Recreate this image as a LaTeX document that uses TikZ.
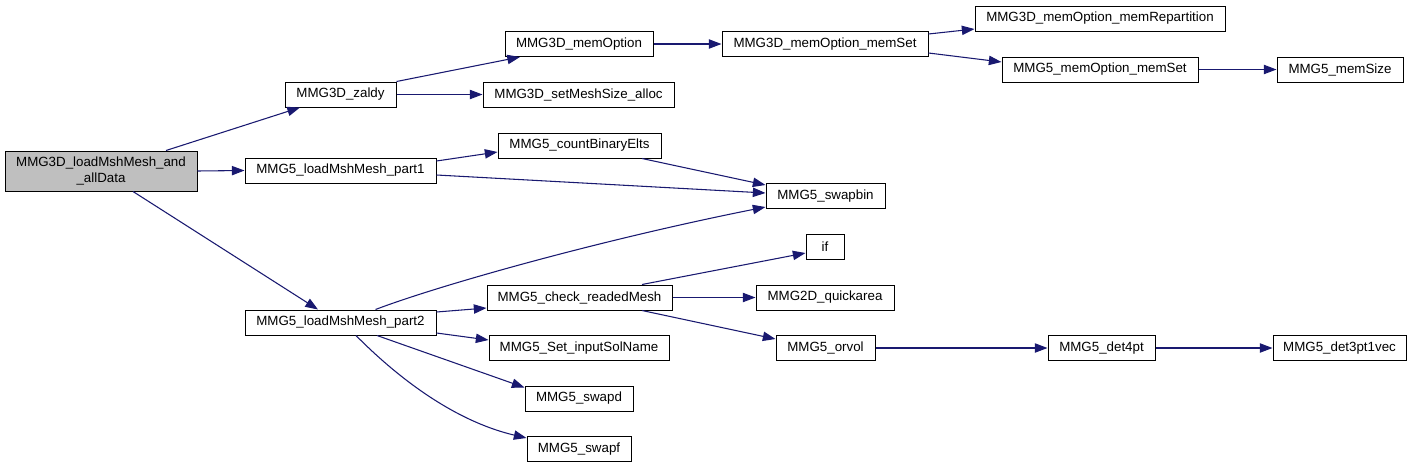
\documentclass[tikz,border=0pt]{standalone}
\usepackage{fontspec}
\setmainfont{Liberation Sans}
\usetikzlibrary{arrows.meta,calc}
\definecolor{edgeblue}{HTML}{191970}
\definecolor{rootgray}{HTML}{BFBFBF}
\begin{document}
\begin{tikzpicture}[x=0.75pt,y=-0.75pt,
  box/.style={draw=black,line width=0.75pt,rectangle,inner sep=0pt,minimum height=18.75pt,font=\fontsize{10pt}{11.5pt}\selectfont,fill=white},
  rootbox/.style={box,fill=rootgray,minimum height=30pt,align=center},
  edge/.style={draw=edgeblue,line width=0.8pt,-{Triangle[length=9.5pt,width=7pt]}}]
\useasboundingbox (0,0) rectangle (1413,468);
% nodes
\node[rootbox,minimum width=144pt] (root) at (101,171) {MMG3D\_loadMshMesh\_and\\\_allData};
\node[box,minimum width=83.25pt] (zaldy) at (340.5,94.5) {MMG3D\_zaldy};
\node[box,minimum width=143.25pt] (part1) at (340.5,170.5) {MMG5\_loadMshMesh\_part1};
\node[box,minimum width=143.25pt] (part2) at (340.5,322.5) {MMG5\_loadMshMesh\_part2};
\node[box,minimum width=111pt] (memopt) at (579,44) {MMG3D\_memOption};
\node[box,minimum width=143.25pt] (alloc) at (578.5,94.5) {MMG3D\_setMeshSize\_alloc};
\node[box,minimum width=154.5pt] (memset) at (825,44) {MMG3D\_memOption\_memSet};
\node[box,minimum width=187.5pt] (memrep) at (1100,18.5) {MMG3D\_memOption\_memRepartition};
\node[box,minimum width=147pt] (memsetfive) at (1100,69.5) {MMG5\_memOption\_memSet};
\node[box,minimum width=94.5pt] (memsize) at (1340,69.5) {MMG5\_memSize};
\node[box,minimum width=122.25pt] (countbin) at (579.5,145.5) {MMG5\_countBinaryElts};
\node[box,minimum width=89.25pt] (swapbin) at (825.5,196) {MMG5\_swapbin};
\node[box,minimum width=28.5pt] (iff) at (825,246.5) {if};
\node[box,minimum width=138.75pt] (check) at (579.5,297.5) {MMG5\_check\_readedMesh};
\node[box,minimum width=103.5pt] (quick) at (825,297.5) {MMG2D\_quickarea};
\node[box,minimum width=135pt] (solname) at (579,348) {MMG5\_Set\_inputSolName};
\node[box,minimum width=74.25pt] (orvol) at (825.5,348) {MMG5\_orvol};
\node[box,minimum width=81pt] (swapd) at (579,398.5) {MMG5\_swapd};
\node[box,minimum width=78pt] (swapf) at (579,449) {MMG5\_swapf};
\node[box,minimum width=80.25pt] (detfour) at (1101.5,348) {MMG5\_det4pt};
\node[box,minimum width=99.75pt] (detthree) at (1339.5,348) {MMG5\_det3pt1vec};
% edges
\draw[edge] ($(root.north)+(65,0)$) -- ($(zaldy.south)+(-40.5,0)$);
\draw[edge] (root.east) -- (part1.west);
\draw[edge] ($(root.south)+(32,0)$) -- ($(part2.north)+(-22.5,0)$);
\draw[edge] (zaldy.north east) -- ($(memopt.south)+(-59,0)$);
\draw[edge] (zaldy.east) -- (alloc.west);
\draw[edge] (memopt.east) -- (memset.west);
\draw[edge] ($(memset.east)+(0,-10)$) -- ($(memrep.west)+(0,10.5)$);
\draw[edge] ($(memset.east)+(0,9)$) -- ($(memsetfive.west)+(0,-7.5)$);
\draw[edge] (memsetfive.east) -- (memsize.west);
\draw[edge] ($(part1.east)+(0,-9.5)$) -- ($(countbin.west)+(0,6.5)$);
\draw[edge] ($(part1.east)+(0,4.5)$) -- ($(swapbin.west)+(0,-3)$);
\draw[edge] ($(countbin.south)+(62.5,0)$) -- ($(swapbin.north west)+(0,2)$);
\draw[edge] ($(part2.north)+(35,0)$) .. controls (440,285) and (600,240) .. ($(swapbin.west)+(0,11)$);
\draw[edge] ($(part2.east)+(0,-10.5)$) -- ($(check.west)+(0,10.5)$);
\draw[edge] ($(part2.east)+(0,10.5)$) -- ($(solname.west)+(0,-8)$);
\draw[edge] ($(part2.south)+(36.5,0)$) -- ($(swapd.north west)+(0,2)$);
\draw[edge] ($(part2.south)+(15.5,0)$) .. controls (392,372) and (450,420) .. ($(swapf.north west)+(0,2)$);
\draw[edge] ($(check.north)+(62.5,0)$) -- ($(iff.west)+(0,6.5)$);
\draw[edge] (check.east) -- (quick.west);
\draw[edge] ($(check.south)+(62.5,0)$) -- ($(orvol.north west)+(0,4)$);
\draw[edge] (orvol.east) -- (detfour.west);
\draw[edge] (detfour.east) -- (detthree.west);
\end{tikzpicture}
\end{document}
